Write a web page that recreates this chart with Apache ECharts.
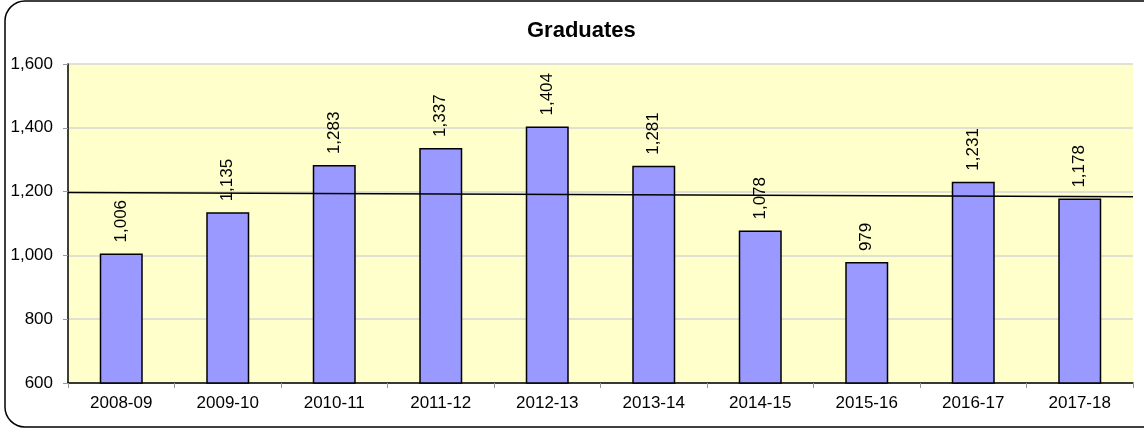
<!DOCTYPE html>
<html>
<head>
<meta charset="utf-8">
<script src="https://cdn.jsdelivr.net/npm/echarts@6/dist/echarts.min.js"></script>
<style>
html,body{margin:0;padding:0;background:#fff;}
#c{width:1144px;height:429px;}
</style>
</head>
<body>
<div id="c"></div>
<script>
const categories = ['2008-09','2009-10','2010-11','2011-12','2012-13','2013-14','2014-15','2015-16','2016-17','2017-18'];
const graduates = [1006,1135,1283,1337,1404,1281,1078,979,1231,1178];
const trendStartEnd = [1197,1184];
const yTicks = [600,800,1000,1200,1400,1600];

const fmt = v => Number(v).toLocaleString('en-US');
const font = 'Arial, "Liberation Sans", sans-serif';

const chart = echarts.init(document.getElementById('c'), null, {renderer:'canvas'});
chart.setOption({
  animation:false,
  backgroundColor:'#ffffff',
  title:{
    text:'Graduates',
    left:527, top:20, padding:0,
    textStyle:{fontFamily:font,fontSize:22,fontWeight:'bold',color:'#000'}
  },
  graphic:[{
    type:'rect', z:100, silent:true,
    shape:{x:5,y:1,width:1160,height:426,r:20},
    style:{fill:'none',stroke:'#000',lineWidth:1.5}
  }],
  grid:{left:68,right:11,top:64,bottom:46,show:true,backgroundColor:'#FFFFCC',borderWidth:0,containLabel:false},
  xAxis:[{
    type:'category',
    data:categories,
    axisLine:{show:true,lineStyle:{color:'#000',width:1.5}},
    axisTick:{show:true,alignWithLabel:false,length:5,lineStyle:{color:'#999'}},
    axisLabel:{fontFamily:font,fontSize:17,color:'#000',margin:12},
    splitLine:{show:false}
  },{
    type:'value', min:0, max:10, show:false
  }],
  yAxis:{
    type:'value',
    min:yTicks[0], max:yTicks[yTicks.length-1], interval:200,
    axisLine:{show:true,lineStyle:{color:'#000',width:1.5}},
    axisTick:{show:true,length:5,lineStyle:{color:'#999'}},
    axisLabel:{fontFamily:font,fontSize:17,color:'#000',margin:15,formatter:fmt},
    splitLine:{show:true,lineStyle:{color:'#D6D6D6',width:1.5}}
  },
  series:[{
    type:'bar',
    data:graduates,
    barWidth:43,
    itemStyle:{color:'#9999FF',borderColor:'#000',borderWidth:1.5},
    label:{
      show:true, position:'top', rotate:90, distance:11,
      align:'left', verticalAlign:'middle',
      fontFamily:font, fontSize:17, color:'#000',
      formatter:p=>fmt(p.value)
    },
    z:2
  },{
    type:'line',
    xAxisIndex:1,
    data:[[0,trendStartEnd[0]],[10,trendStartEnd[1]]],
    symbol:'none',
    lineStyle:{color:'#000',width:1.5},
    z:5
  }]
});
</script>
</body>
</html>
